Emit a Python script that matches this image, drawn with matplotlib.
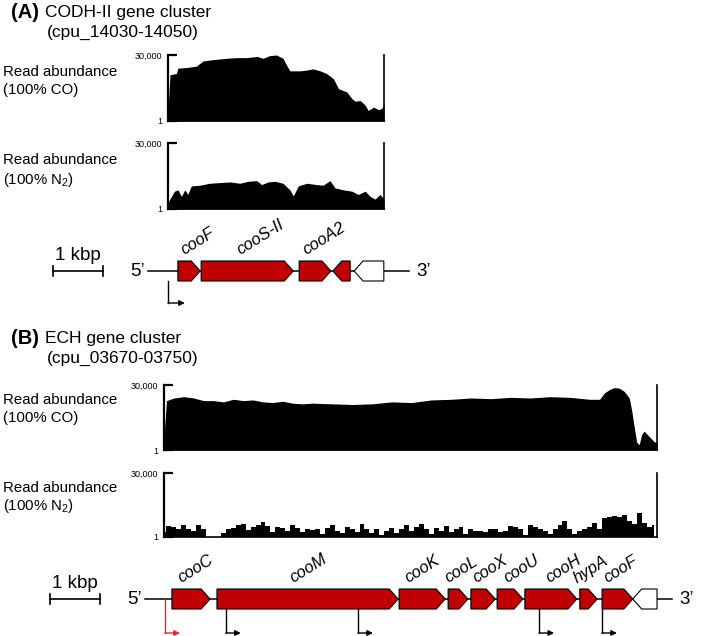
import matplotlib
matplotlib.use('Agg')
import matplotlib.pyplot as plt
from matplotlib.patches import Polygon
import numpy as np

plt.rcParams['font.family'] = ['Liberation Sans', 'DejaVu Sans']
plt.rcParams['mathtext.fontset'] = 'custom'
plt.rcParams['mathtext.rm'] = 'Liberation Sans'
plt.rcParams['mathtext.it'] = 'Liberation Sans:italic'

# ---------------- data (positions in kbp from the left edge of each coverage plot) ----------------
# (A) CODH-II cluster, coverage under 100% CO
a_co_pos = [0.00, 0.04, 0.17, 0.20, 0.37, 0.57, 0.71, 0.91, 1.18, 1.38, 1.58, 1.72, 1.79,
            1.92, 2.05, 2.19, 2.32, 2.39, 2.46, 2.66, 2.79, 2.93, 3.07, 3.20, 3.34, 3.44,
            3.61, 3.71, 3.78, 3.88, 3.98, 4.04, 4.15, 4.25, 4.31, 4.36]
a_co_reads = [4800, 21000, 21600, 24000, 24300, 24900, 27300, 27900, 28500, 28800, 28800,
              29100, 29400, 28500, 29700, 30000, 28500, 25500, 22800, 22800, 23100, 23700,
              22800, 21600, 19200, 14700, 13200, 10200, 9000, 9300, 7200, 4800, 6300, 5100,
              5700, 7800]
# (A) coverage under 100% N2
a_n2_pos = [0.00, 0.03, 0.13, 0.20, 0.27, 0.34, 0.40, 0.47, 0.64, 0.84, 1.04, 1.25, 1.45,
            1.62, 1.79, 1.89, 2.02, 2.16, 2.32, 2.46, 2.53, 2.63, 2.80, 3.00, 3.13, 3.27,
            3.37, 3.54, 3.71, 3.84, 3.98, 4.08, 4.18, 4.28, 4.36]
a_n2_reads = [2700, 4200, 8100, 8700, 5700, 8700, 6600, 10500, 10800, 11700, 12000, 12300,
              11700, 12600, 12900, 11100, 12300, 12600, 11700, 8700, 6000, 10500, 11700,
              11100, 10800, 12900, 9600, 8700, 8100, 6600, 8100, 5700, 4500, 6600, 4500]
a_width = 4.36

# (B) ECH cluster, coverage under 100% CO
b_co_pos = [0.00, 0.05, 0.20, 0.40, 0.60, 0.80, 1.00, 1.20, 1.40, 1.60, 1.80, 2.00, 2.20,
            2.40, 2.60, 2.80, 3.00, 3.40, 3.80, 4.20, 4.60, 5.00, 5.40, 5.80, 6.20, 6.60,
            7.00, 7.40, 7.80, 8.20, 8.60, 8.80, 8.90, 9.00, 9.10, 9.20, 9.30, 9.40, 9.45,
            9.50, 9.55, 9.60, 9.65, 9.70, 9.80, 9.90, 9.96]
b_co_reads = [6000, 22800, 24000, 24600, 24000, 22800, 22800, 22200, 23400, 22800, 23100,
              22200, 21900, 22500, 21600, 21300, 21600, 21300, 21000, 21300, 22200, 21900,
              23100, 23400, 24000, 23700, 24300, 24000, 24600, 24300, 23400, 23400, 26400,
              27900, 28800, 28500, 27000, 24000, 18000, 10500, 3600, 2400, 7200, 8700,
              6300, 3900, 3300]
# (B) coverage under 100% N2, one value per 0.1 kbp bin
b_n2_reads = [2400, 5100, 4500, 3600, 5700, 3600, 3000, 5400, 3600, 0,
              0, 0, 2100, 3600, 4200, 5700, 6000, 3300, 4800, 5700,
              6900, 5100, 2400, 4500, 4200, 3000, 5400, 4200, 2400, 3600,
              3300, 3900, 1200, 4200, 5400, 3000, 1800, 4500, 3600, 2400,
              6000, 3900, 1800, 3600, 900, 3000, 4200, 1800, 3600, 5400,
              3000, 4800, 6000, 3600, 1500, 4200, 3000, 5100, 2400, 3600,
              4500, 1200, 3900, 3000, 3000, 2400, 3600, 3600, 2400, 3000,
              5100, 4500, 3600, 900, 5400, 4800, 3600, 3000, 1500, 3600,
              5400, 7500, 3600, 1500, 3000, 3900, 4500, 6600, 3600, 9000,
              9600, 9900, 9600, 10200, 7500, 6000, 11400, 6600, 4500, 5400]
b_n2_pos = np.arange(len(b_n2_reads)) * 0.1
b_width = 9.96

# gene maps
a_names = ['cooF', 'cooS-II', 'cooA2', '', '']
a_start = [0.20, 0.67, 2.65, 3.33, 3.76]
a_end = [0.65, 2.53, 3.29, 3.68, 4.36]
a_strand = [1, 1, 1, -1, -1]
a_in_cluster = [True, True, True, True, False]
a_line = [-0.40, 4.87]
a_promoters = [0.0]

b_names = ['cooC', 'cooM', 'cooK', 'cooL', 'cooX', 'cooU', 'cooH', 'hypA', 'cooF', '']
b_start = [0.16, 1.07, 4.75, 5.74, 6.20, 6.73, 7.29, 8.40, 8.85, 9.47]
b_end = [0.93, 4.73, 5.68, 6.14, 6.69, 7.25, 8.34, 8.75, 9.47, 9.96]
b_strand = [1, 1, 1, 1, 1, 1, 1, 1, 1, -1]
b_in_cluster = [True] * 9 + [False]
b_line = [-0.38, 10.26]
b_promoters = [0.02, 1.25, 3.92, 7.58, 8.85]
b_promoter_main = [True, False, False, False, False]

# ---------------- layout ----------------
W, H = 707, 636
PX_PER_KB = 49.5
RED = '#c00000'
HEAD = 0.18

fig = plt.figure(figsize=(W / 100, H / 100), dpi=100)


def px_rect(x0, y0, x1, y1):
    return [x0 / W, 1 - y1 / H, (x1 - x0) / W, (y1 - y0) / H]


def fig_text(x, y, s, **kw):
    fig.text(x / W, 1 - y / H, s, va='center', ha='left', **kw)


def coverage(rect, pos, reads, width, step=None):
    ax = fig.add_axes(px_rect(*rect))
    ax.fill_between(pos, reads, 0, step=step, color='black', lw=0)
    ax.set_xlim(0, width)
    ax.set_ylim(1, 30000)
    ax.set_yticks([1, 30000])
    ax.set_yticklabels(['1', '30,000'])
    ax.set_xticks([])
    ax.spines['top'].set_visible(False)
    ax.spines['left'].set_linewidth(1.6)
    ax.spines['right'].set_linewidth(1.2)
    ax.spines['bottom'].set_linewidth(1.2)
    ax.tick_params(axis='y', direction='in', length=6.5, width=1.6,
                   labelsize=6.5, pad=4)
    ax.patch.set_alpha(0)
    return ax


def gene_map(center, x0, names, start, end, strand, in_cluster, line,
             promoters, main_flags, label_dx, bar_x, prom_depth, prom_len):
    ax = fig.add_axes(px_rect(0, center - 35, W, center + 35))
    ax.set_xlim(-x0 / PX_PER_KB, (W - x0) / PX_PER_KB)
    ax.set_ylim(-3.5, 3.5)
    ax.axis('off')
    ax.plot(line, [0, 0], color='black', lw=1.1, zorder=1)
    for i in range(len(names)):
        s, e = start[i], end[i]
        hd = min(HEAD, 0.6 * (e - s))
        if strand[i] > 0:
            pts = [(s, -1), (e - hd, -1), (e, 0), (e - hd, 1), (s, 1)]
        else:
            pts = [(e, -1), (s + hd, -1), (s, 0), (s + hd, 1), (e, 1)]
        fc = RED if in_cluster[i] else 'white'
        ax.add_patch(Polygon(pts, closed=True, fc=fc, ec='black', lw=0.8, zorder=2))
        if names[i]:
            ax.text((s + e) / 2 + label_dx[i], 1.3, names[i], rotation=32,
                    ha='center', va='bottom', style='italic', fontsize=12)
    for p, main in zip(promoters, main_flags):
        col = '#e8281e' if main else 'black'
        y0 = 0 if main else -1
        ax.plot([p, p], [y0, prom_depth], color=col, lw=1.0, zorder=1)
        ax.annotate('', xy=(p + prom_len, prom_depth), xytext=(p, prom_depth),
                    arrowprops=dict(arrowstyle='-|>', color=col, lw=1.0,
                                    mutation_scale=8, shrinkA=0, shrinkB=0))
    # scale bar
    ax.plot([bar_x, bar_x + 1], [0, 0], color='black', lw=1.2)
    ax.plot([bar_x, bar_x], [-0.5, 0.5], color='black', lw=1.2)
    ax.plot([bar_x + 1, bar_x + 1], [-0.5, 0.5], color='black', lw=1.2)
    ax.text(bar_x + 0.5, 1.6, '1 kbp', ha='center', va='center', fontsize=13.5)
    ax.text(line[0] - 0.06, 0, '5\u2019', ha='right', va='center', fontsize=13.5)
    ax.text(line[1] + 0.15, 0, '3\u2019', ha='left', va='center', fontsize=13.5)
    return ax


# ---------------- panel A ----------------
fig_text(11, 12, '(A)', fontsize=14.5, fontweight='bold')
fig_text(45, 12, 'CODH-II gene cluster', fontsize=12.5)
fig_text(47, 32, '(cpu_14030-14050)', fontsize=12.5)
fig_text(3, 72, 'Read abundance', fontsize=10.8)
fig_text(3, 90, '(100% CO)', fontsize=10.8)
fig_text(3, 160, 'Read abundance', fontsize=10.8)
fig_text(3, 180, '(100% N$_2$)', fontsize=10.8)

coverage((168, 55, 384, 121), a_co_pos, a_co_reads, a_width)
coverage((168, 143, 384, 209), a_n2_pos, a_n2_reads, a_width)
gene_map(271, 168, a_names, a_start, a_end, a_strand, a_in_cluster, a_line,
         a_promoters, [False], [0.17, 0.26, 0.19, 0, 0], -2.32, -3.2, 0.34)

# ---------------- panel B ----------------
fig_text(11, 338, '(B)', fontsize=14.5, fontweight='bold')
fig_text(45, 338, 'ECH gene cluster', fontsize=12.5)
fig_text(47, 358, '(cpu_03670-03750)', fontsize=12.5)
fig_text(3, 400, 'Read abundance', fontsize=10.8)
fig_text(3, 418, '(100% CO)', fontsize=10.8)
fig_text(3, 488, 'Read abundance', fontsize=10.8)
fig_text(3, 506, '(100% N$_2$)', fontsize=10.8)

coverage((164, 385, 657, 450), b_co_pos, b_co_reads, b_width)
coverage((164, 473, 657, 537), b_n2_pos, b_n2_reads, b_width, step='mid')
gene_map(599, 164, b_names, b_start, b_end, b_strand, b_in_cluster, b_line,
         b_promoters, b_promoter_main,
         [0.10, 0.02, 0.0, 0.06, 0.14, 0.24, 0.26, 0.04, 0.06, 0],
         -2.30, -3.4, 0.30)

fig.savefig('out.png', dpi=100)
